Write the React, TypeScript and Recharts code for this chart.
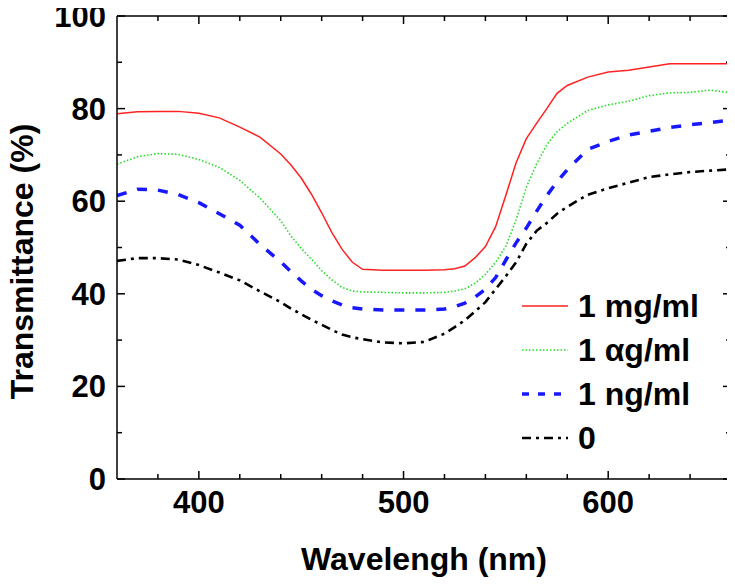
import React from 'react';
import { LineChart, Line, XAxis, YAxis, Legend } from 'recharts';

const wavelengths = [360, 370, 380, 390, 400, 410, 420, 430, 440, 445, 450, 455, 460, 465, 470, 475, 480, 490, 500, 510, 520, 525, 530, 535, 540, 545, 550, 555, 560, 565, 570, 575, 580, 590, 600, 610, 620, 630, 640, 650, 660];
const mgml = [78.9, 79.3, 79.4, 79.4, 79.0, 78.0, 76.0, 73.8, 70.2, 67.8, 65.0, 61.5, 57.5, 53.2, 49.6, 46.8, 45.3, 45.1, 45.1, 45.1, 45.2, 45.4, 46.0, 47.8, 50.2, 54.5, 61.3, 68.3, 73.5, 76.8, 80.0, 83.3, 85.0, 86.8, 87.9, 88.3, 89.0, 89.7, 89.7, 89.7, 89.7];
const ugml = [68.0, 69.6, 70.3, 70.1, 69.0, 67.3, 64.5, 60.6, 55.8, 52.5, 49.8, 47.5, 45.0, 43.0, 41.4, 40.6, 40.4, 40.3, 40.2, 40.2, 40.3, 40.6, 41.1, 42.3, 44.2, 46.8, 50.3, 56.0, 63.0, 68.0, 72.2, 75.0, 76.8, 79.6, 80.8, 81.6, 82.8, 83.4, 83.5, 84.0, 83.4];
const ngml = [61.2, 62.6, 62.4, 61.4, 59.7, 57.3, 54.8, 50.6, 46.9, 44.8, 42.8, 41.0, 39.6, 38.5, 37.6, 37.0, 36.7, 36.5, 36.5, 36.5, 36.7, 37.2, 38.0, 39.3, 41.0, 43.5, 47.3, 51.0, 54.2, 57.8, 61.2, 64.2, 66.8, 71.2, 72.9, 74.3, 75.1, 75.9, 76.5, 77.0, 77.5];
const zero = [47.1, 47.7, 47.7, 47.4, 46.2, 44.6, 42.9, 40.5, 38.2, 36.8, 35.6, 34.4, 33.3, 32.2, 31.2, 30.6, 30.2, 29.5, 29.3, 29.6, 31.4, 32.8, 34.3, 36.2, 38.2, 41.0, 43.8, 46.8, 50.8, 53.6, 55.3, 57.3, 58.8, 61.4, 62.8, 64.0, 65.2, 65.8, 66.3, 66.6, 66.9];

const seriesNames = ['1 mg/ml', '1 \u03b1g/ml', '1 ng/ml', '0'];

const xMajorTicks = [400, 500, 600];
const xMinorTicks = [380, 420, 440, 460, 480, 520, 540, 560, 580, 620, 640];
const yMajorTicks = [0, 20, 40, 60, 80, 100];
const yMinorTicks = [10, 30, 50, 70, 90];

const xAllTicks = [...xMajorTicks, ...xMinorTicks].sort((a, b) => a - b);
const yAllTicks = [...yMajorTicks, ...yMinorTicks].sort((a, b) => a - b);

const data = wavelengths.map((wl, i) => ({ wl, s0: mgml[i], s1: ugml[i], s2: ngml[i], s3: zero[i] }));

const FONT = "'Liberation Sans', Arial, Helvetica, sans-serif";
const styles = [
  { key: 's0', color: '#ff2222', width: 1.5, dash: undefined as string | undefined },
  { key: 's1', color: '#22dd22', width: 1.6, dash: '1.5 2' },
  { key: 's2', color: '#1818ff', width: 3.5, dash: '10 11' },
  { key: 's3', color: '#000000', width: 2.6, dash: '9 5 3 5' },
];

const MAJOR = 8;
const MINOR = 5;

const BottomTick = (props: any) => {
  const { x, y, payload } = props;
  const major = xMajorTicks.includes(payload.value);
  return (
    <g>
      <line x1={x} x2={x} y1={y} y2={y - (major ? MAJOR : MINOR)} stroke="#000" strokeWidth={1.5} />
      {major && (
        <text x={x} y={y + 34} textAnchor="middle" fontFamily={FONT} fontWeight="bold" fontSize={31} fill="#000">
          {payload.value}
        </text>
      )}
    </g>
  );
};

const TopTick = (props: any) => {
  const { x, y, payload } = props;
  const major = xMajorTicks.includes(payload.value);
  return <line x1={x} x2={x} y1={y} y2={y + (major ? MAJOR : MINOR)} stroke="#000" strokeWidth={1.5} />;
};

const LeftTick = (props: any) => {
  const { x, y, payload } = props;
  const major = yMajorTicks.includes(payload.value);
  return (
    <g>
      <line x1={x} x2={x + (major ? MAJOR : MINOR)} y1={y} y2={y} stroke="#000" strokeWidth={1.5} />
      {major && (
        <text x={x - 11} y={y + 11} textAnchor="end" fontFamily={FONT} fontWeight="bold" fontSize={31} fill="#000">
          {payload.value}
        </text>
      )}
    </g>
  );
};

const RightTick = (props: any) => {
  const { x, y, payload } = props;
  const major = yMajorTicks.includes(payload.value);
  return <line x1={x} x2={x - (major ? MAJOR : MINOR)} y1={y} y2={y} stroke="#000" strokeWidth={1.5} />;
};

const YTitle = (props: any) => {
  const vb = props.viewBox || { x: 0, y: 16, width: 117, height: 463 };
  const cx = vb.x + 33;
  const cy = vb.y + vb.height / 2 + 14;
  return (
    <text
      x={cx}
      y={cy}
      transform={`rotate(-90, ${cx}, ${cy})`}
      textAnchor="middle"
      fontFamily={FONT}
      fontWeight="bold"
      fontSize={32}
      fill="#000"
    >
      Transmittance (%)
    </text>
  );
};

const XTitle = (props: any) => {
  const vb = props.viewBox || { x: 117, y: 479, width: 614, height: 106 };
  return (
    <text
      x={vb.x + vb.width / 2}
      y={vb.y + 91}
      textAnchor="middle"
      fontFamily={FONT}
      fontWeight="bold"
      fontSize={32}
      fill="#000"
    >
      Wavelengh (nm)
    </text>
  );
};

const renderLegend = () => (
  <div style={{ display: 'flex', flexDirection: 'column' }}>
    {seriesNames.map((name, i) => (
      <div key={name} style={{ display: 'flex', alignItems: 'center', height: 44 }}>
        <svg width={46} height={10} style={{ marginRight: 10, display: 'block' }}>
          <line
            x1={0}
            x2={46}
            y1={5}
            y2={5}
            stroke={styles[i].color}
            strokeWidth={styles[i].width}
            strokeDasharray={i === 2 ? '7 9' : styles[i].dash}
          />
        </svg>
        <span style={{ fontFamily: FONT, fontWeight: 'bold', fontSize: 32, lineHeight: '44px', color: '#000', whiteSpace: 'nowrap' }}>
          {name}
        </span>
      </div>
    ))}
  </div>
);

export default function App() {
  return (
    <div style={{ width: 735, height: 585, background: '#fff', margin: '-8px 0 0 -8px' }}>
      <LineChart width={735} height={585} data={data} margin={{ top: 15, right: 3, bottom: 0, left: 0 }}>
        <XAxis
          xAxisId="bottom"
          dataKey="wl"
          type="number"
          domain={[360, 660]}
          ticks={xAllTicks}
          interval={0}
          height={106}
          tickSize={0}
          tickMargin={0}
          tickLine={false}
          axisLine={{ stroke: '#000', strokeWidth: 1.5 }}
          tick={<BottomTick />}
          label={{ content: <XTitle /> }}
          allowDataOverflow
        />
        <XAxis
          xAxisId="top"
          orientation="top"
          dataKey="wl"
          type="number"
          domain={[360, 660]}
          ticks={xAllTicks}
          interval={0}
          height={1}
          tickSize={0}
          tickMargin={0}
          tickLine={false}
          axisLine={{ stroke: '#000', strokeWidth: 1.5 }}
          tick={<TopTick />}
          allowDataOverflow
        />
        <YAxis
          yAxisId="left"
          type="number"
          domain={[0, 100]}
          ticks={yAllTicks}
          interval={0}
          width={117}
          tickSize={0}
          tickMargin={0}
          tickLine={false}
          axisLine={{ stroke: '#000', strokeWidth: 1.5 }}
          tick={<LeftTick />}
          label={{ content: <YTitle /> }}
          allowDataOverflow
        />
        <YAxis
          yAxisId="right"
          orientation="right"
          type="number"
          domain={[0, 100]}
          ticks={yAllTicks}
          interval={0}
          width={1}
          tickSize={0}
          tickMargin={0}
          tickLine={false}
          axisLine={{ stroke: '#000', strokeWidth: 1.5 }}
          tick={<RightTick />}
          allowDataOverflow
        />
        <Legend
          layout="vertical"
          align="center"
          verticalAlign="middle"
          content={renderLegend}
          wrapperStyle={{ left: 522, top: 284, width: 210, height: 176 }}
        />
        {styles.map((s, i) => (
          <Line
            key={s.key}
            xAxisId="bottom"
            yAxisId="left"
            type="linear"
            dataKey={s.key}
            name={seriesNames[i]}
            stroke={s.color}
            strokeWidth={s.width}
            strokeDasharray={s.dash}
            dot={false}
            activeDot={false}
            isAnimationActive={false}
          />
        ))}
        <Line
          xAxisId="top"
          yAxisId="right"
          dataKey="s0"
          stroke="none"
          strokeWidth={0}
          dot={false}
          activeDot={false}
          legendType="none"
          isAnimationActive={false}
        />
      </LineChart>
    </div>
  );
}
